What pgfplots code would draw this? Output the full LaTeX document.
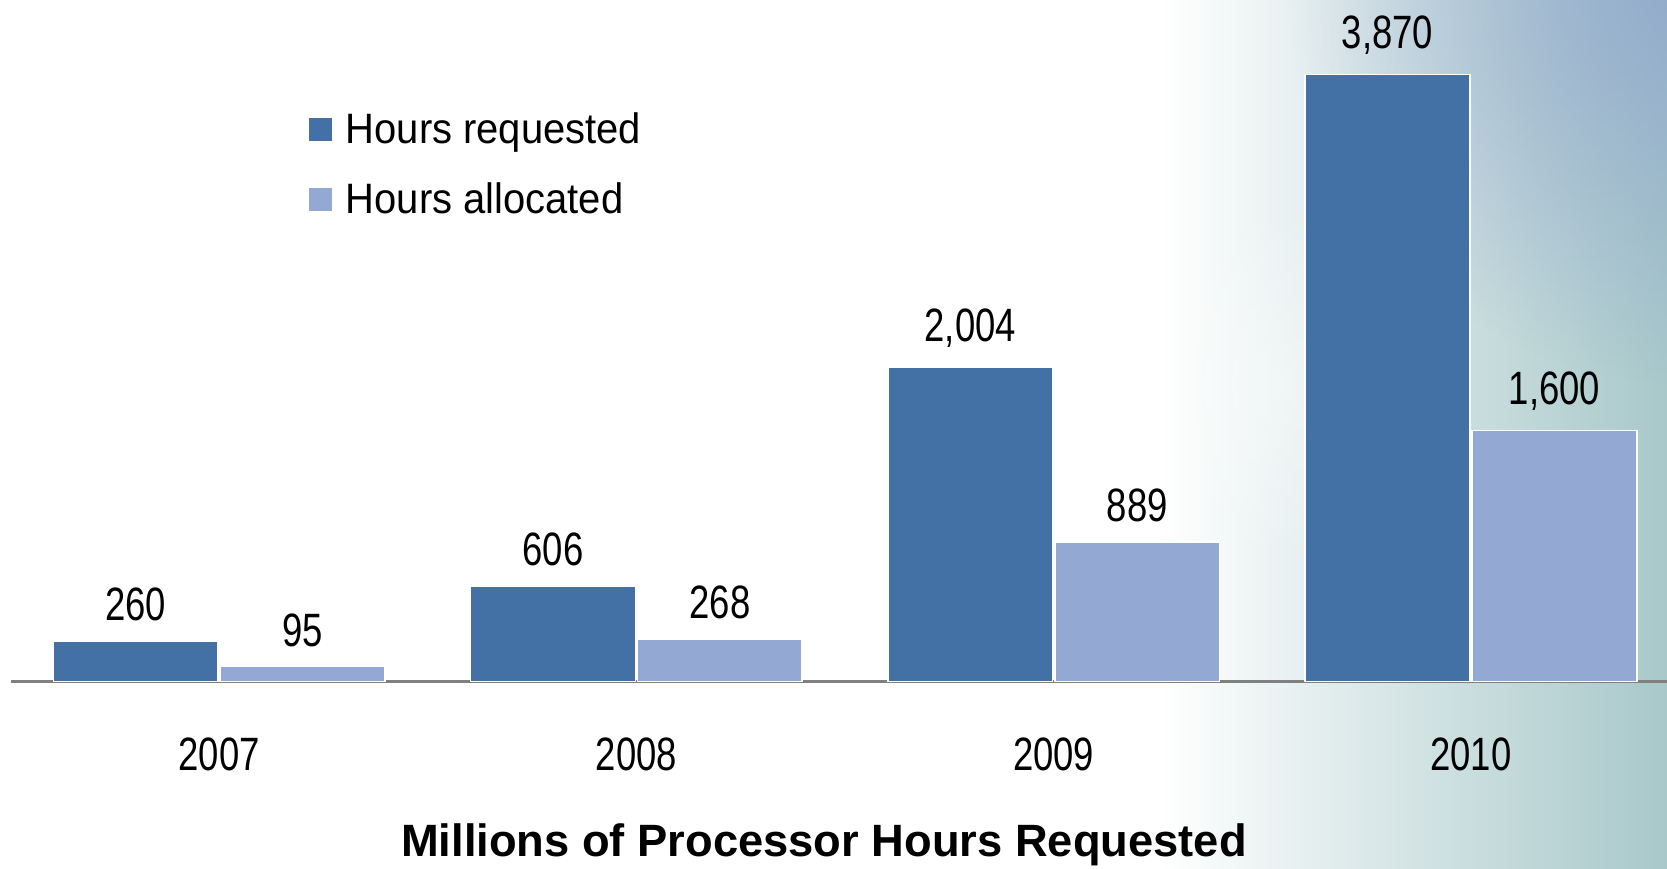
\documentclass[border=0pt]{standalone}
\usepackage{pgfplots}
\pgfplotsset{compat=1.18}
\usetikzlibrary{fadings}
\usepackage{fontspec}
\setmainfont{Liberation Sans}
\newfontfamily\numfont[FakeStretch=0.78]{Liberation Sans}
\newfontfamily\legfont[FakeStretch=0.94]{Liberation Sans}
\definecolor{req}{RGB}{67,113,166}
\definecolor{alloc}{RGB}{147,169,211}
\definecolor{bgR}{RGB}{168,200,202}
\definecolor{bgT}{RGB}{142,165,204}
\tikzfading[name=softcircle, inner color=transparent!0, outer color=transparent!100]
\begin{document}
\begin{tikzpicture}
% decorative background on the right
\begin{scope}
\clip (-5pt,-88pt) rectangle (779pt,320.5pt);
\shade[left color=white, right color=bgR] (540pt,-88pt) rectangle (779pt,320.5pt);
\fill[bgT, path fading=softcircle, fit fading=true, opacity=0.85] (790pt,330pt) circle (190pt);
\fill[white, path fading=softcircle, fit fading=true, opacity=0.35] (600pt,140pt) circle (90pt);
\end{scope}
\begin{axis}[
  scale only axis,
  width=779pt, height=320.5pt,
  xmin=-0.5, xmax=3.47,
  ymin=0, ymax=4346,
  ybar=1pt, bar width=77.5pt,
  axis x line=bottom, axis y line=none,
  x axis line style={-, draw={rgb,255:red,128;green,128;blue,128}, line width=1.5pt},
  xtick=data, xticklabels={2007,2008,2009,2010},
  major tick length=0pt,
  xticklabel style={font=\numfont\fontsize{22}{24}\selectfont, anchor=center, yshift=-34.5pt},
  xlabel={\bfseries Millions of Processor Hours Requested},
  xlabel style={font=\fontsize{21.3}{24}\selectfont, at={(axis description cs:0.491,0)}, anchor=center, yshift=-77pt},
  /pgf/number format/assume math mode=true,
  /pgf/number format/1000 sep={,},
  nodes near coords,
  nodes near coords style={font=\numfont\fontsize{22}{24}\selectfont, anchor=south, inner sep=0pt, yshift=9pt, text=black},
  clip=false,
  legend style={at={(0.1797,0.839)}, anchor=north west, draw=none, fill=none,
    font=\legfont\fontsize{20}{22}\selectfont, row sep=15pt, inner sep=0pt,
    nodes={inner sep=1pt, anchor=west}},
  legend cell align=left,
  legend image code/.code={\fill[#1, draw=none] (0pt,-5.5pt) rectangle (11pt,5.5pt); \path (16pt,0pt);},
]
\addplot[fill=req, draw=white, line width=0.8pt] coordinates {(0,260) (1,606) (2,2004) (3,3870)};
\addplot[fill=alloc, draw=white, line width=0.8pt] coordinates {(0,95) (1,268) (2,889) (3,1600)};
\legend{Hours requested, Hours allocated}
\end{axis}
\pgfresetboundingbox
\path[use as bounding box] (-5pt,-88pt) rectangle (779pt,320.5pt);
\end{tikzpicture}
\end{document}
